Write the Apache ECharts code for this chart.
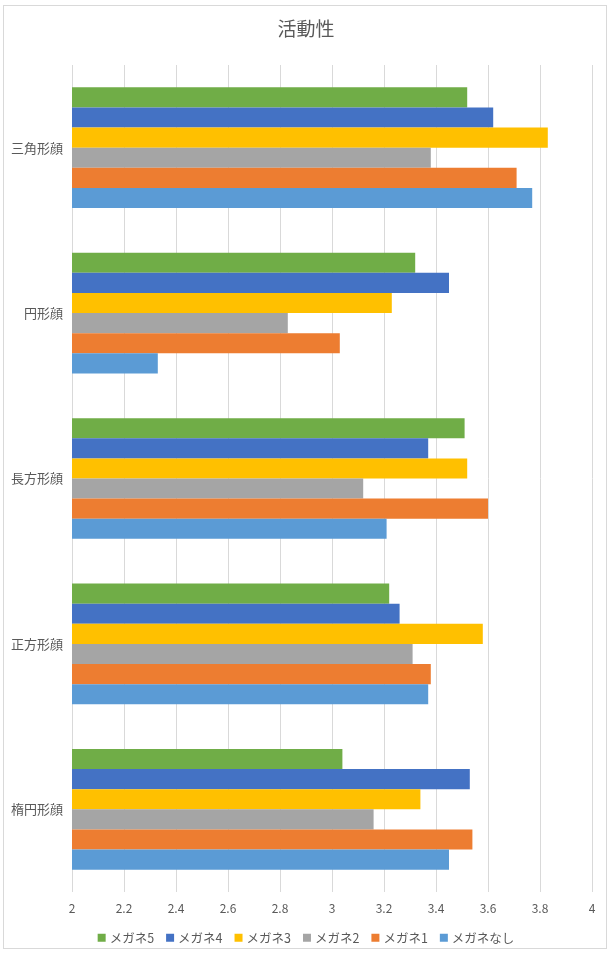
<!DOCTYPE html>
<html>
<head>
    <meta charset="utf-8">
    <title>活動性</title>
    <script src="https://cdn.jsdelivr.net/npm/echarts@6.0.0/dist/echarts.min.js"></script>
    <style>
        html, body { margin: 0; padding: 0; background: #fff; }
        #frame { position: absolute; left: 3px; top: 5px; width: 604px; height: 944px; border: 1px solid #d9d9d9; box-sizing: border-box; }
        #chart { width: 612px; height: 953px; }
    </style>
</head>
<body>
    <div id="frame"></div>
    <div id="chart"></div>
    <script>
        // カテゴリ（上から）
        var faces = ['三角形顔', '円形顔', '長方形顔', '正方形顔', '楕円形顔'];
        var seriesNames = ['メガネ5', 'メガネ4', 'メガネ3', 'メガネ2', 'メガネ1', 'メガネなし'];
        var colors = ['#70AD47', '#4472C4', '#FFC000', '#A5A5A5', '#ED7D31', '#5B9BD5'];

        // 各系列の値（faces の順）
        var megane5 = [3.52, 3.32, 3.51, 3.22, 3.04];
        var megane4 = [3.62, 3.45, 3.37, 3.26, 3.53];
        var megane3 = [3.83, 3.23, 3.52, 3.58, 3.34];
        var megane2 = [3.38, 2.83, 3.12, 3.31, 3.16];
        var megane1 = [3.71, 3.03, 3.60, 3.38, 3.54];
        var meganeNashi = [3.77, 2.33, 3.21, 3.37, 3.45];
        var values = [megane5, megane4, megane3, megane2, megane1, meganeNashi];

        var chart = echarts.init(document.getElementById('chart'));
        var series = [];
        for (var i = 0; i < seriesNames.length; i++) {
            series.push({
                name: seriesNames[i],
                type: 'bar',
                data: values[i],
                itemStyle: { color: colors[i] },
                barGap: 0,
                barCategoryGap: '27%'
            });
        }

        var option = {
            animation: false,
            textStyle: { fontFamily: 'Noto Sans CJK JP' },
            title: {
                text: '活動性',
                left: 'center',
                top: 14,
                textStyle: { fontSize: 19, fontWeight: 'normal', color: '#595959', fontFamily: 'Noto Sans CJK JP' }
            },
            legend: {
                data: seriesNames,
                bottom: 4,
                left: 'center',
                itemWidth: 8,
                itemHeight: 8,
                itemGap: 12,
                icon: 'rect',
                textStyle: { fontSize: 12.5, color: '#595959', padding: [0, 0, 0, -1] }
            },
            grid: { left: 72, right: 20, top: 65, bottom: 61, containLabel: false },
            xAxis: {
                type: 'value',
                min: 2,
                max: 4,
                interval: 0.2,
                axisLine: { show: false },
                axisTick: { show: false },
                axisLabel: { color: '#595959', fontSize: 12, margin: 10 },
                splitLine: { lineStyle: { color: '#d9d9d9', width: 1 } }
            },
            yAxis: {
                type: 'category',
                data: faces,
                inverse: true,
                axisLine: { show: false },
                axisTick: { show: false },
                axisLabel: { color: '#595959', fontSize: 13, margin: 9 }
            },
            series: series
        };
        chart.setOption(option);
    </script>
</body>
</html>
